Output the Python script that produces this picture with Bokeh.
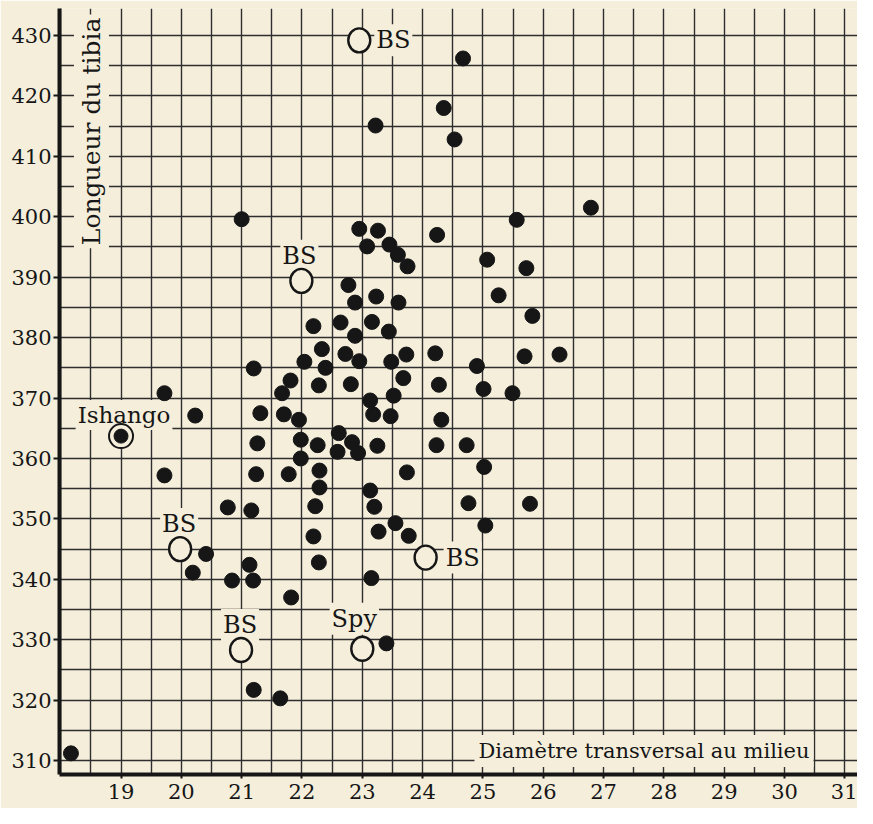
import math
from bokeh.plotting import figure
from bokeh.models import FixedTicker, SingleIntervalTicker, Range1d, ColumnDataSource
from bokeh.core.properties import value
from bokeh.embed import file_html
from bokeh.resources import INLINE

# ---------------- data ----------------
diam = [21.0, 24.67, 24.35, 23.22, 24.53, 26.79, 25.56, 22.95, 23.26, 24.24,
        23.08, 23.45, 23.59, 23.75, 25.07, 25.72, 22.77, 23.23, 22.88, 23.6,
        25.26, 25.82, 22.19, 22.64, 23.16, 22.88, 23.44, 22.33, 22.72, 23.73,
        24.21, 25.69, 26.27, 22.04, 22.95, 23.48, 22.39, 24.9, 21.81, 22.28,
        22.81, 23.68, 24.27, 25.01, 25.49, 21.67, 23.52, 23.13, 23.18, 23.47,
        21.7, 21.95, 24.31, 22.61, 21.98, 22.83, 22.26, 22.59, 22.93, 23.25,
        24.23, 24.73, 21.98, 22.29, 21.78, 23.74, 25.02, 22.29, 23.13, 22.22,
        23.2, 24.76, 25.78, 25.04, 23.55, 23.27, 23.77, 22.19, 19.72, 20.23,
        19.72, 21.2, 21.31, 21.26, 21.24, 20.77, 21.16, 20.41, 20.19, 20.84,
        21.13, 21.19, 21.82, 21.2, 21.64, 18.17, 22.28, 23.15, 23.4]
tibia = [399.6, 426.2, 418.0, 415.1, 412.8, 401.5, 399.5, 398.0, 397.7, 397.0,
         395.1, 395.4, 393.7, 391.8, 392.9, 391.5, 388.7, 386.8, 385.8, 385.8,
         387.0, 383.6, 381.9, 382.5, 382.6, 380.3, 381.0, 378.1, 377.3, 377.2,
         377.4, 376.9, 377.2, 376.0, 376.1, 376.0, 375.0, 375.3, 372.9, 372.1,
         372.3, 373.3, 372.2, 371.5, 370.8, 370.8, 370.4, 369.6, 367.3, 367.0,
         367.3, 366.4, 366.4, 364.2, 363.1, 362.7, 362.2, 361.1, 360.9, 362.1,
         362.2, 362.2, 360.0, 358.0, 357.4, 357.7, 358.6, 355.2, 354.7, 352.1,
         352.0, 352.6, 352.5, 348.9, 349.3, 347.9, 347.2, 347.1, 370.8, 367.1,
         357.2, 374.9, 367.5, 362.5, 357.4, 351.9, 351.4, 344.2, 341.1, 339.8,
         342.4, 339.8, 337.0, 321.7, 320.3, 311.2, 342.8, 340.2, 329.4]

ref_diam = [22.95, 21.99, 19.98, 24.05, 20.99, 23.0]
ref_tibia = [429.2, 389.4, 345.0, 343.6, 328.3, 328.5]
ref_names = ["BS", "BS", "BS", "BS", "BS", "Spy"]

ishango_diam = [19.0]
ishango_tibia = [363.7]
ishango_name = ["Ishango"]

x_ticks = [19, 20, 21, 22, 23, 24, 25, 26, 27, 28, 29, 30, 31]
y_ticks = [310, 320, 330, 340, 350, 360, 370, 380, 390, 400, 410, 420, 430]
x_title = "Diamètre transversal au milieu"
y_title = "Longueur du tibia"

# ---------------- style ----------------
BG = "#f4eedb"
INK = "#161616"
GRID = "#2e2e2e"
FONT = "DejaVu Serif"

p = figure(width=857, height=808, output_backend="svg", toolbar_location=None,
           x_range=Range1d(17.98, 31.21), y_range=Range1d(307.7, 434.47),
           min_border_left=59, min_border_right=0, min_border_top=8,
           min_border_bottom=34,
           background_fill_color=BG, border_fill_color=BG,
           outline_line_color=None)

p.xaxis.ticker = FixedTicker(ticks=x_ticks)
p.yaxis.ticker = FixedTicker(ticks=y_ticks)
for ax in (p.xaxis, p.yaxis):
    ax.axis_line_width = 4
    ax.axis_line_color = INK
    ax.major_tick_line_color = INK
    ax.major_tick_line_width = 2
    ax.major_tick_in = 0
    ax.minor_tick_line_color = None
    ax.major_label_text_font = FONT
    ax.major_label_text_font_size = "21px"
    ax.major_label_text_color = INK
p.yaxis.major_tick_out = 6
p.yaxis.major_label_standoff = 2
p.xaxis.major_tick_out = 4
p.xaxis.major_label_standoff = 5

p.xgrid.ticker = SingleIntervalTicker(interval=0.5)
p.ygrid.ticker = SingleIntervalTicker(interval=5)
for g in (p.xgrid, p.ygrid):
    g.grid_line_color = GRID
    g.grid_line_width = 1.4
    g.grid_line_alpha = 1.0

# axis titles drawn inside the grid, with paper-coloured boxes
p.text(x=[18.51], y=[394.8], text=[y_title], angle=math.pi / 2,
       text_align="left", text_baseline="alphabetic",
       text_font=value(FONT), text_font_size="25px", text_color=INK,
       background_fill_color=BG, padding=3)
p.text(x=[24.86], y=[311.6], text=[x_title],
       text_align="left", text_baseline="alphabetic",
       text_font=value(FONT), text_font_size="21px", text_color=INK,
       background_fill_color=BG, padding=4)

# labels of the reference specimens
dx = [15, -2, -1, 18, -1, -8]
dy = [0, -25, -25, 0, -25, -30]
align = ["left", "center", "center", "left", "center", "center"]
for a in ("left", "center"):
    idx = [i for i in range(len(ref_names)) if align[i] == a]
    src = ColumnDataSource(dict(x=[ref_diam[i] for i in idx],
                                y=[ref_tibia[i] for i in idx],
                                t=[ref_names[i] for i in idx],
                                dx=[dx[i] for i in idx],
                                dy=[dy[i] for i in idx]))
    p.text(x="x", y="y", text="t", x_offset="dx", y_offset="dy", source=src,
           text_align=a, text_baseline="alphabetic",
           text_font=value(FONT), text_font_size="24px", text_color=INK,
           background_fill_color=BG, padding=2)

p.text(x=ishango_diam, y=ishango_tibia, text=ishango_name,
       x_offset=3, y_offset=-21, text_align="center", text_baseline="alphabetic",
       text_font=value(FONT), text_font_size="23px", text_color=INK,
       background_fill_color=BG, padding=2)

# open circles (reference specimens)
p.ellipse(x=ref_diam, y=ref_tibia, width=22, height=24,
          width_units="screen", height_units="screen",
          fill_color=BG, line_color=INK, line_width=2.4)

# Ishango: ringed dot
p.scatter(x=ishango_diam, y=ishango_tibia, marker="circle", size=24,
          fill_color=BG, line_color=INK, line_width=2)
p.scatter(x=ishango_diam, y=ishango_tibia, marker="circle", size=14,
          fill_color=INK, line_color=INK)

# filled dots
p.scatter(x=diam, y=tibia, marker="circle", size=15,
          fill_color=INK, line_color=INK)

open("out.html", "w").write(file_html(p, INLINE))
